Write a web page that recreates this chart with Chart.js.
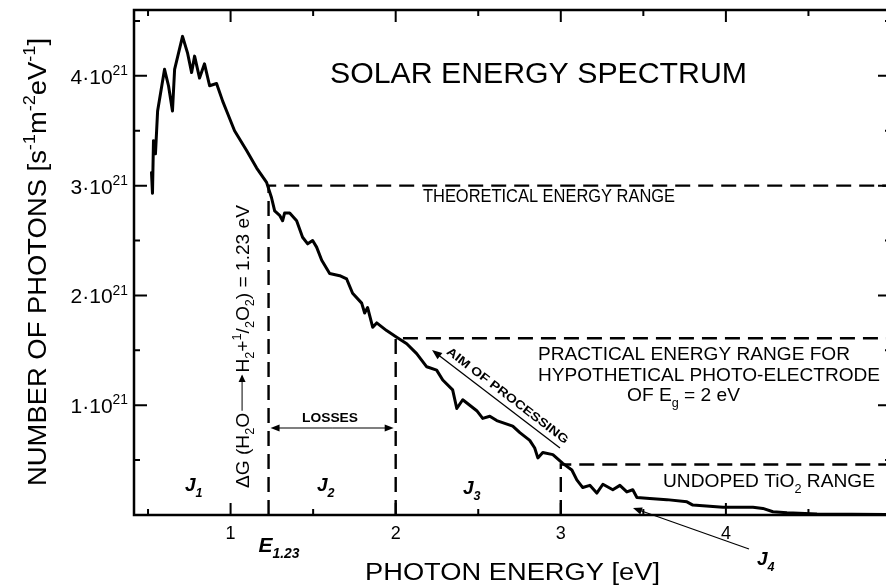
<!DOCTYPE html>
<html>
<head>
<meta charset="utf-8">
<script src="https://cdn.jsdelivr.net/npm/chart.js@4.4.0/dist/chart.umd.min.js"></script>
<style>
  html, body { margin: 0; padding: 0; background: #fff; overflow: hidden; }
  #wrap { width: 900px; height: 586px; }
</style>
</head>
<body>
<div id="wrap"><canvas id="spectrum" width="900" height="586"></canvas></div>
<script>
// photon energy [eV] and photon flux [10^21 s-1 m-2 eV-1]
const energy = [0.521, 0.527, 0.533, 0.545, 0.558, 0.600, 0.624, 0.648, 0.661, 0.709,
  0.739, 0.764, 0.782, 0.812, 0.842, 0.873, 0.915, 0.952, 0.976, 1.024,
  1.097, 1.158, 1.218, 1.248, 1.267, 1.297, 1.315, 1.327, 1.358, 1.400,
  1.436, 1.467, 1.497, 1.521, 1.552, 1.600, 1.661, 1.703, 1.739, 1.794,
  1.812, 1.830, 1.861, 1.885, 1.945, 2.006, 2.067, 2.127, 2.188, 2.248,
  2.285, 2.345, 2.370, 2.406, 2.491, 2.527, 2.570, 2.612, 2.709, 2.752,
  2.812, 2.842, 2.861, 2.891, 2.952, 3.012, 3.067, 3.097, 3.133, 3.176,
  3.218, 3.255, 3.315, 3.358, 3.400, 3.436, 3.461, 3.539, 3.642, 3.764,
  3.800, 3.982, 4.164, 4.224, 4.285, 4.370, 4.552, 4.970];
const photons = [3.12, 2.93, 3.41, 3.29, 3.68, 4.06, 3.91, 3.68, 4.06, 4.36,
  4.21, 4.03, 4.18, 3.98, 4.11, 3.91, 3.93, 3.77, 3.68, 3.50,
  3.32, 3.16, 3.03, 2.89, 2.77, 2.73, 2.68, 2.75, 2.75, 2.68,
  2.53, 2.47, 2.50, 2.44, 2.32, 2.20, 2.18, 2.15, 2.02, 1.93,
  1.84, 1.89, 1.71, 1.75, 1.68, 1.62, 1.56, 1.47, 1.35, 1.32,
  1.23, 1.14, 0.97, 1.05, 0.95, 0.88, 0.90, 0.86, 0.81, 0.75,
  0.68, 0.61, 0.52, 0.57, 0.55, 0.47, 0.41, 0.32, 0.25, 0.27,
  0.20, 0.28, 0.23, 0.27, 0.21, 0.23, 0.16, 0.15, 0.14, 0.12,
  0.09, 0.07, 0.07, 0.06, 0.03, 0.02, 0.01, 0.005];

// range limits: E1.23, Eg = 2 eV, undoped TiO2 (~3 eV), and flux level where each range starts
const limitEnergy = [1.23, 2, 3];
const limitLevel = [3.0, 1.61, 0.46];

const xTicks = [1, 2, 3, 4, 5];
const yTicks = [1, 2, 3, 4];
const yTickLabels = ['1·10', '2·10', '3·10', '4·10'];
const yTickExp = '21';

const FONT = "'Liberation Sans', Arial, Helvetica, sans-serif";

function T(t, style) { return { t, style }; }
function SUB(t, style) { return { t, style, sub: true }; }
function SUP(t, style) { return { t, style, sup: true }; }

function setFont(ctx, size, style) {
  ctx.font = `${style || ''} ${size}px ${FONT}`;
}

function runsWidth(ctx, runs, size) {
  let w = 0;
  runs.forEach(r => {
    if (r.gap) { w += r.gap; return; }
    setFont(ctx, (r.sub || r.sup) ? size * 0.66 : size, r.style);
    w += ctx.measureText(r.t).width;
  });
  return w;
}

// draw a rich text line; baseline at (x, y), optionally rotated and stretched to a width
function label(ctx, runs, x, y, size, opts) {
  opts = opts || {};
  const natural = runsWidth(ctx, runs, size);
  const sx = opts.width ? opts.width / natural : 1;
  ctx.save();
  ctx.translate(x, y);
  if (opts.angle) ctx.rotate(opts.angle);
  ctx.scale(sx, 1);
  ctx.fillStyle = '#000';
  ctx.strokeStyle = '#000';
  ctx.textBaseline = 'alphabetic';
  ctx.textAlign = 'left';
  let cx = opts.align === 'center' ? -natural / 2 : opts.align === 'right' ? -natural : 0;
  const dy0 = opts.dy || 0;
  runs.forEach(r => {
    if (r.gap) {
      const ay = dy0 - size * 0.36;
      ctx.lineWidth = 1;
      ctx.beginPath();
      ctx.moveTo(cx + 2, ay);
      ctx.lineTo(cx + r.gap - 3, ay);
      ctx.stroke();
      ctx.beginPath();
      ctx.moveTo(cx + r.gap - 2, ay);
      ctx.lineTo(cx + r.gap - 9, ay - 3.5);
      ctx.lineTo(cx + r.gap - 9, ay + 3.5);
      ctx.closePath();
      ctx.fill();
      cx += r.gap;
      return;
    }
    const s = (r.sub || r.sup) ? size * 0.66 : size;
    setFont(ctx, s, r.style);
    const dy = r.sub ? size * 0.3 : r.sup ? -size * 0.42 : 0;
    ctx.fillText(r.t, cx, dy0 + dy);
    cx += ctx.measureText(r.t).width;
  });
  ctx.restore();
}

function arrow(ctx, x1, y1, x2, y2, head, lw) {
  const a = Math.atan2(y2 - y1, x2 - x1);
  ctx.save();
  ctx.strokeStyle = '#000';
  ctx.fillStyle = '#000';
  ctx.lineWidth = lw;
  ctx.beginPath();
  ctx.moveTo(x1, y1);
  ctx.lineTo(x2 - Math.cos(a) * head * 0.6, y2 - Math.sin(a) * head * 0.6);
  ctx.stroke();
  ctx.beginPath();
  ctx.moveTo(x2, y2);
  ctx.lineTo(x2 - head * Math.cos(a) + head * 0.4 * Math.sin(a), y2 - head * Math.sin(a) - head * 0.4 * Math.cos(a));
  ctx.lineTo(x2 - head * Math.cos(a) - head * 0.4 * Math.sin(a), y2 - head * Math.sin(a) + head * 0.4 * Math.cos(a));
  ctx.closePath();
  ctx.fill();
  ctx.restore();
}

const decorations = {
  id: 'decorations',
  afterDraw(chart) {
    const ctx = chart.ctx;
    const xs = chart.scales.x, ys = chart.scales.y;
    const a = chart.chartArea;
    const px = v => xs.getPixelForValue(v);
    const py = v => ys.getPixelForValue(v);

    // frame
    ctx.save();
    ctx.strokeStyle = '#000';
    ctx.lineWidth = 2.5;
    ctx.strokeRect(a.left, a.top, a.right - a.left, a.bottom - a.top);

    // inward ticks on all four sides
    ctx.lineWidth = 2;
    ctx.beginPath();
    for (let e = 0.5; e <= 5; e += 0.5) {
      const x = px(e);
      if (x < a.left + 2) continue;
      const len = Number.isInteger(e) ? 12 : 6;
      ctx.moveTo(x, a.bottom); ctx.lineTo(x, a.bottom - len);
      ctx.moveTo(x, a.top); ctx.lineTo(x, a.top + len);
    }
    for (let v = 0.5; v <= 4.5; v += 0.5) {
      const y = py(v);
      const len = Number.isInteger(v) ? 13 : 6;
      ctx.moveTo(a.left, y); ctx.lineTo(a.left + len, y);
      ctx.moveTo(a.right, y); ctx.lineTo(a.right - len, y);
    }
    ctx.stroke();
    ctx.restore();

    // tick labels
    xTicks.forEach(t => label(ctx, [T(String(t))], px(t), a.bottom + 24, 18, { align: 'center' }));
    yTicks.forEach((t, i) => label(ctx, [T(yTickLabels[i]), SUP(yTickExp)], a.left - 6, py(t) + 8, 21, { align: 'right' }));

    // axis titles
    label(ctx, [T('PHOTON ENERGY [eV]')], 365, 580, 23, { width: 295 });
    label(ctx, [T('NUMBER OF PHOTONS [s'), SUP('-1'), T('m'), SUP('-2'), T('eV'), SUP('-1'), T(']')],
      46, 486, 26, { angle: -Math.PI / 2, width: 448 });

    // title and range labels
    label(ctx, [T('SOLAR ENERGY SPECTRUM')], 330, 83, 29, { width: 417 });
    label(ctx, [T('THEORETICAL ENERGY RANGE')], 423, 202, 18.5, { width: 252 });
    label(ctx, [T('PRACTICAL ENERGY RANGE FOR')], 538, 360, 19, { width: 312 });
    label(ctx, [T('HYPOTHETICAL PHOTO-ELECTRODE')], 538, 381, 19, { width: 342 });
    label(ctx, [T('OF E'), SUB('g'), T(' = 2 eV')], 627, 401, 19, { width: 113 });
    label(ctx, [T('UNDOPED TiO'), SUB('2'), T(' RANGE')], 663, 487, 18.5, { width: 212 });

    // ΔG annotation along the E1.23 line
    label(ctx, [T('ΔG (H'), SUB('2'), T('O'), { gap: 38 }, T('H'), SUB('2'), T('+'), SUP('1'), T('/'), SUB('2'),
      T('O'), SUB('2'), T(') = 1.23 eV')], px(limitEnergy[0]) - 20, 488, 18, { angle: -Math.PI / 2, width: 283 });

    // losses arrow between E1.23 and Eg
    const ly = 428;
    arrow(ctx, (px(limitEnergy[0]) + px(limitEnergy[1])) / 2, ly, px(limitEnergy[1]) - 2, ly, 9, 1.2);
    arrow(ctx, (px(limitEnergy[0]) + px(limitEnergy[1])) / 2, ly, px(limitEnergy[0]) + 2, ly, 9, 1.2);
    label(ctx, [T('LOSSES', 'bold')], 330, 422, 12.5, { align: 'center', width: 56 });

    // aim of processing
    arrow(ctx, 560, 448, 432, 350, 10, 1.3);
    const ang = Math.atan2(98, 128);
    label(ctx, [T('AIM OF PROCESSING', 'bold')], 508, 395, 12, { align: 'center', angle: ang, width: 150, dy: 4.5 });

    // J labels
    const J = (n, x, y) => label(ctx, [T('J', 'italic bold'), SUB(n, 'italic bold')], x, y, 19);
    J('1', 185, 491);
    J('2', 317, 491);
    J('3', 463, 494);
    J('4', 757, 565);
    arrow(ctx, 749, 549, 633, 508, 9, 1.2);

    // E1.23 under the axis
    label(ctx, [T('E', 'italic bold'), SUB('1.23', 'italic bold')], px(limitEnergy[0]) - 10, 552, 21);
  }
};

const dash = [15, 8];
new Chart(document.getElementById('spectrum'), {
  type: 'scatter',
  data: {
    datasets: [
      {
        data: energy.map((e, i) => ({ x: e, y: photons[i] })),
        showLine: true, borderColor: '#000', borderWidth: 3, pointRadius: 0,
        borderJoinStyle: 'round', borderCapStyle: 'round', order: 0
      },
      ...limitEnergy.map((e, i) => ({
        data: [{ x: e, y: 0 }, { x: e, y: limitLevel[i] }, { x: 5.2, y: limitLevel[i] }],
        showLine: true, borderColor: '#000', borderWidth: 2.4, pointRadius: 0,
        borderDash: dash, order: 1
      }))
    ]
  },
  options: {
    responsive: false,
    animation: false,
    layout: { padding: { left: 134, top: 10, right: 9, bottom: 71 } },
    plugins: { legend: { display: false }, tooltip: { enabled: false } },
    scales: {
      x: { type: 'linear', min: 0.415, max: 5, display: false },
      y: { type: 'linear', min: 0, max: 4.6, display: false }
    }
  },
  plugins: [decorations]
});
</script>
</body>
</html>
